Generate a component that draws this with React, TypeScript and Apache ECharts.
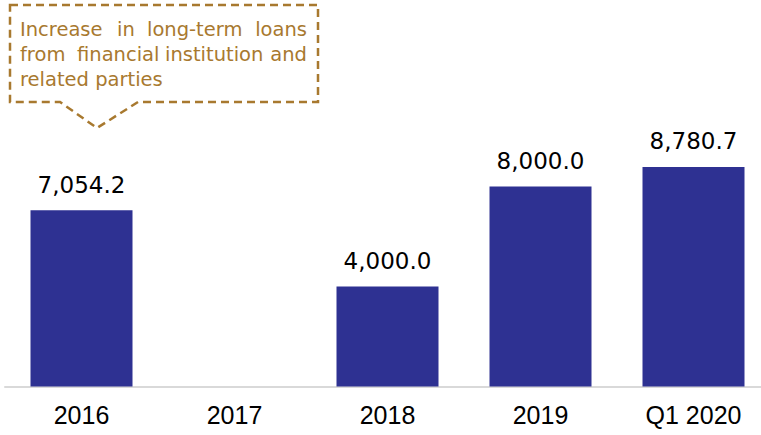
import React, { useEffect, useRef } from "react";
import * as echarts from "echarts";

const categories = ["2016", "2017", "2018", "2019", "Q1 2020"];
const loanValues: (number | null)[] = [7054.2, null, 4000.0, 8000.0, 8780.7];
const noteLine1Words = ["Increase", "in", "long-term", "loans"];
const noteLine2Words = ["from", "financial", "institution", "and"];
const noteLine3 = "related parties";

const BAR = "#2E3192";
const GOLD = "#A8792F";

export default function App() {
  const ref = useRef<HTMLDivElement>(null);
  useEffect(() => {
    if (!ref.current) return;
    const chart = echarts.init(ref.current, undefined, { renderer: "svg" });
    const txt = (text: string, x: number, y: number, align: string) => ({
      type: "text",
      x,
      y,
      style: {
        text,
        fill: GOLD,
        font: "19.5px 'DejaVu Sans'",
        align,
        verticalAlign: "middle",
      },
    });
    const line1X = [20, 117, 147, 307];
    const line2X = [20, 77, 165, 307];
    const aligns = ["left", "left", "left", "right"];
    chart.setOption({
      animation: false,
      grid: { left: 5, right: 0, top: 136.5, bottom: 48.5 },
      xAxis: {
        type: "category",
        data: categories,
        axisLine: { show: true, lineStyle: { color: "#D9D9D9", width: 2 } },
        axisTick: { show: false },
        axisLabel: {
          color: "#000",
          fontFamily: "'Liberation Sans', Arial",
          fontSize: 25,
          margin: 16,
        },
      },
      yAxis: {
        type: "value",
        min: 0,
        max: 10000,
        show: false,
        splitLine: { show: false },
      },
      series: [
        {
          type: "bar",
          data: loanValues,
          barWidth: 102,
          itemStyle: { color: BAR },
          label: {
            show: true,
            position: "top",
            distance: 14,
            color: "#000",
            fontFamily: "'DejaVu Sans'",
            fontSize: 23,
            formatter: (p: any) =>
              p.value == null
                ? ""
                : Number(p.value).toLocaleString("en-US", {
                    minimumFractionDigits: 1,
                    maximumFractionDigits: 1,
                  }),
          },
        },
      ],
      graphic: [
        {
          type: "polygon",
          shape: {
            points: [
              [10, 5],
              [318, 5],
              [318, 102],
              [138, 102],
              [97, 128],
              [60, 102],
              [10, 102],
            ],
          },
          style: {
            fill: "none",
            stroke: GOLD,
            lineWidth: 2.5,
            lineDash: [8, 5],
          },
        },
        ...noteLine1Words.map((w, i) => txt(w, line1X[i], 29, aligns[i])),
        ...noteLine2Words.map((w, i) => txt(w, line2X[i], 54, aligns[i])),
        txt(noteLine3, 20, 79, "left"),
      ],
    });
    return () => chart.dispose();
  }, []);
  return (
    <div
      style={{
        position: "absolute",
        left: 0,
        top: 0,
        width: 761,
        height: 435,
        overflow: "hidden",
      }}
    >
      <div ref={ref} style={{ width: 770, height: 435 }} />
    </div>
  );
}
